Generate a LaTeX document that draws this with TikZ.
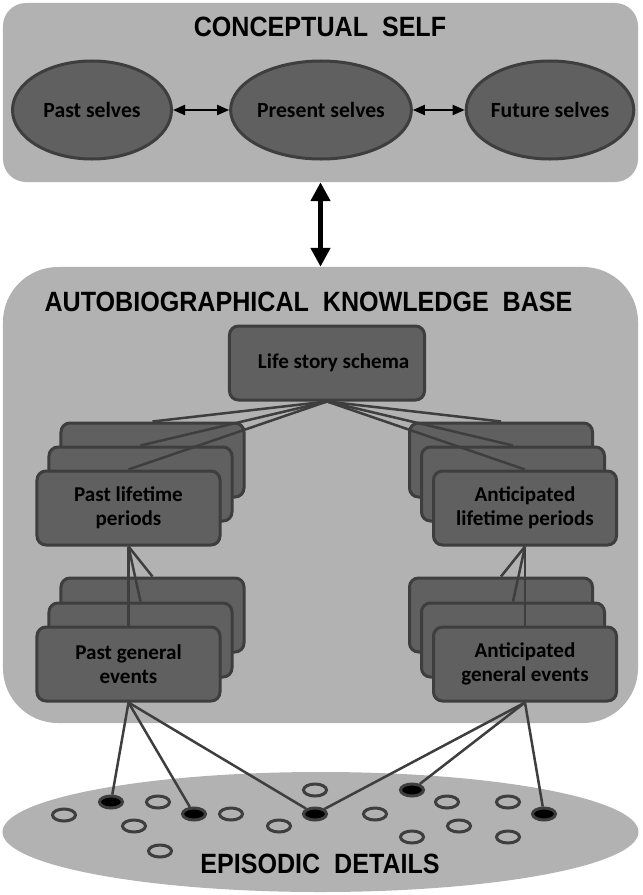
\documentclass[tikz,border=0pt]{standalone}
\usepackage{fontspec}
\setmainfont{Carlito}
\newfontfamily\headfont[FakeStretch=0.9]{Liberation Sans}
\usetikzlibrary{shapes.geometric, arrows.meta}
\definecolor{panelgray}{RGB}{178,178,178}
\definecolor{boxgray}{RGB}{96,96,96}
\definecolor{edgegray}{RGB}{62,62,62}
\tikzstyle{panel} = [rectangle, minimum width=19.05cm, fill=panelgray]
\tikzstyle{heading} = [inner sep=0pt, font=\headfont\bfseries\fontsize{23.8}{26}\selectfont]
\tikzstyle{self} = [ellipse, minimum width=4.77cm, minimum height=2.94cm, inner sep=0pt, draw=edgegray, line width=0.09cm, fill=boxgray, font=\bfseries\fontsize{18.5}{20}\selectfont]
\tikzstyle{memory} = [rectangle, rounded corners=0.27cm, minimum width=5.49cm, minimum height=2.22cm, align=center, draw=edgegray, line width=0.09cm, fill=boxgray, font=\bfseries\fontsize{18}{20.5}\selectfont]
\tikzstyle{detail} = [ellipse, minimum width=0.69cm, minimum height=0.36cm, inner sep=0pt, draw=edgegray, line width=0.09cm, fill=panelgray]
\tikzstyle{cued} = [detail, fill=black]
\tikzstyle{link} = [draw=edgegray, line width=0.075cm]
\tikzstyle{arrow} = [line width=0.06cm, <->, >={Triangle[length=0.36cm,width=0.3cm]}]
\tikzstyle{bigarrow} = [line width=0.15cm, <->, >={Triangle[length=0.57cm,width=0.57cm]}]

\begin{document}
\begin{tikzpicture}[x=0.03cm, y=-0.03cm]
    \useasboundingbox (0,0) rectangle (642,895);

    % the two panels and the episodic pool
    \node (cself) [panel, rounded corners=0.69cm, minimum height=5.37cm] at (320.5,92.5) {};
    \node (akb) [panel, rounded corners=1.65cm, minimum height=13.68cm] at (320.5,495) {};
    \node (pool) [ellipse, fill=panelgray, minimum width=19.08cm, minimum height=3.6cm] at (320.5,832) {};

    \node (cself-title) [heading] at (320,27) {CONCEPTUAL~~SELF};
    \node (akb-title) [heading] at (308.5,302) {AUTOBIOGRAPHICAL~~KNOWLEDGE~~BASE};
    \node (pool-title) [heading] at (320,864) {EPISODIC~~DETAILS};

    % conceptual self
    \node (past) [self] at (92,110) {Past selves};
    \node (present) [self] at (321,110) {Present selves};
    \node (future) [self] at (550,110) {Future selves};

    \draw [arrow] (past) -- (present);
    \draw [arrow] (present) -- (future);
    \draw [bigarrow] (cself.south) -- (akb.north);

    % knowledge base
    \node (schema) [memory, minimum width=5.85cm] at (327,363) {\hspace*{0.4cm}Life story schema};

    \node (pl-back) [memory] at (152.5,460) {};
    \node (pl-mid) [memory] at (140.5,484) {};
    \node (pl-front) [memory] at (128.5,508) {Past lifetime\\periods};

    \node (al-back) [memory] at (501,460) {};
    \node (al-mid) [memory] at (513,484) {};
    \node (al-front) [memory] at (525,508) {Anticipated\\lifetime periods};

    \node (pg-back) [memory] at (152.5,615) {};
    \node (pg-mid) [memory] at (140.5,640) {};
    \node (pg-front) [memory] at (128.5,664) {Past general\\events};

    \node (ag-back) [memory] at (501,615) {};
    \node (ag-mid) [memory] at (513,640) {};
    \node (ag-front) [memory] at (525,664) {Anticipated\\general events};

    \draw [link] (schema.south) -- (pl-back.north);
    \draw [link] (schema.south) -- (pl-mid.north);
    \draw [link] (schema.south) -- (pl-front.north);
    \draw [link] (schema.south) -- (al-back.north);
    \draw [link] (schema.south) -- (al-mid.north);
    \draw [link] (schema.south) -- (al-front.north);

    \draw [link] (pl-front.south) -- (pg-back.north);
    \draw [link] (pl-front.south) -- (pg-mid.north);
    \draw [link] (pl-front.south) -- (pg-front.north);
    \draw [link] (al-front.south) -- (ag-back.north);
    \draw [link] (al-front.south) -- (ag-mid.north);
    \draw [link] (al-front.south) -- (ag-front.north);

    % episodic details
    \node (d1) [detail] at (64,815) {};
    \node (d2) [detail] at (158,802) {};
    \node (d3) [detail] at (134,826) {};
    \node (d4) [detail] at (160,851) {};
    \node (d5) [detail] at (231,814) {};
    \node (d6) [detail] at (279,826) {};
    \node (d7) [detail] at (315,790) {};
    \node (d8) [detail] at (375,814) {};
    \node (d9) [detail] at (447,802) {};
    \node (d10) [detail] at (459,826) {};
    \node (d11) [detail] at (412,837) {};
    \node (d12) [detail] at (508,802) {};
    \node (d13) [detail] at (508,837) {};

    \node (c1) [cued] at (111,802) {};
    \node (c2) [cued] at (194,814) {};
    \node (c3) [cued] at (315,814) {};
    \node (c4) [cued] at (412,790) {};
    \node (c5) [cued] at (544,814) {};

    \draw [link] (pg-front.south) -- (c1);
    \draw [link] (pg-front.south) -- (c2);
    \draw [link] (pg-front.south) -- (c3);
    \draw [link] (ag-front.south) -- (c3);
    \draw [link] (ag-front.south) -- (c4);
    \draw [link] (ag-front.south) -- (c5);
\end{tikzpicture}
\end{document}
